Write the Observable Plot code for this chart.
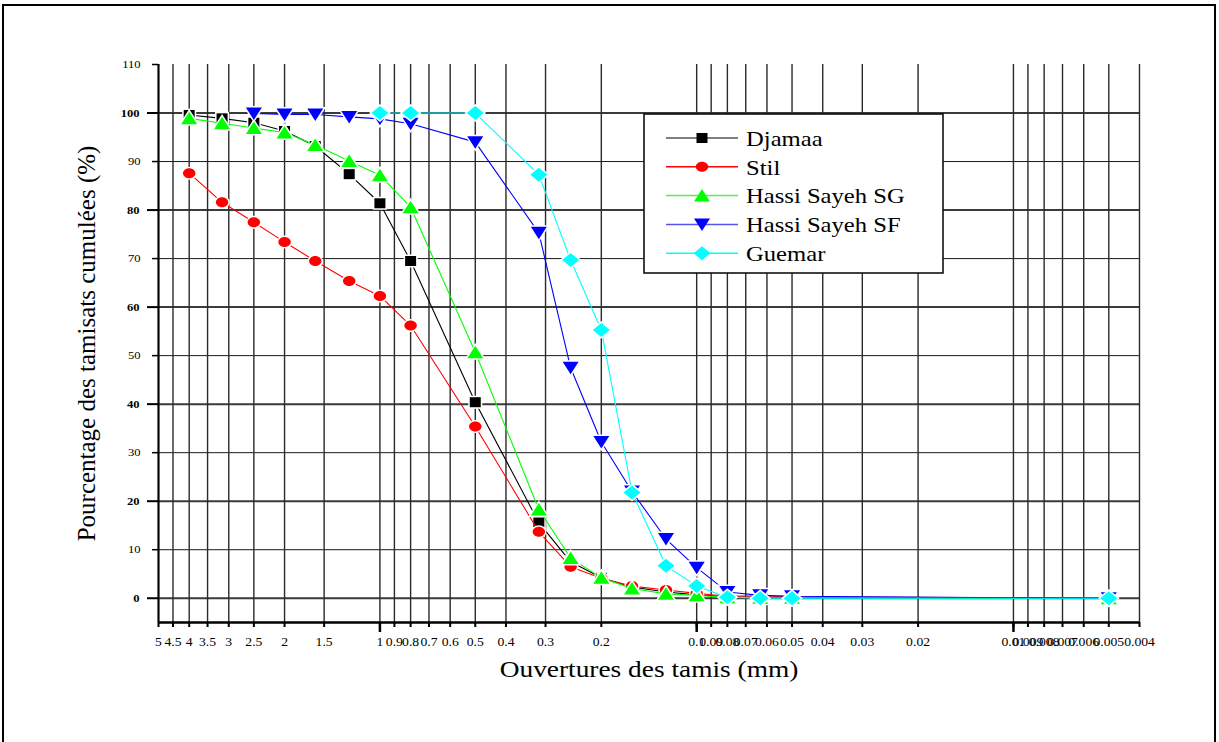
<!DOCTYPE html>
<html><head><meta charset="utf-8">
<script src="https://cdn.jsdelivr.net/npm/d3@7"></script>
<script src="https://cdn.jsdelivr.net/npm/@observablehq/plot@0.6"></script>
<style>
html,body{margin:0;padding:0;background:#fff;overflow:hidden}
#wrap{position:relative;width:1219px;height:742px}
#frame{position:absolute;left:2px;top:4px;width:1214px;height:760px;border:2px solid #000;border-bottom:none;box-sizing:border-box;pointer-events:none}
#legend{position:absolute;left:643px;top:113px}
</style></head><body><div id="wrap"><div id="frame"></div><svg id="legend" width="302" height="162"></svg></div>
<script>
// ---- data ----
const sieves = [4, 3.15, 2.5, 2, 1.6, 1.25, 1, 0.8, 0.5, 0.315, 0.25, 0.2, 0.16, 0.125, 0.1, 0.08, 0.063, 0.05, 0.005];
const djamaa = [99.6, 98.9, 98.0, 96.3, 93.2, 87.4, 81.4, 69.5, 40.4, 15.6, 7.5, 4.2, 2.3, 1.3, 0.7, 0.3, 0.2, 0.1, 0];
const stil   = [87.6, 81.6, 77.5, 73.4, 69.5, 65.4, 62.3, 56.2, 35.4, 13.7, 6.5, 4.1, 2.5, 1.7, 1.0, 0.4, 0.5, 0.3, 0];
const hassiSG = [98.9, 97.9, 96.9, 96.0, 93.4, 90.1, 87.2, 80.6, 50.7, 18.3, 8.3, 4.2, 2.0, 0.9, 0.6, 0.2, 0.1, 0.1, 0];
const hassiSF = [null, null, 99.9, 99.7, 99.7, 99.2, 98.8, 97.8, 94.0, 75.3, 47.5, 32.2, 22.0, 12.2, 6.3, 1.3, 0.6, 0.4, 0];
const guemar = [null, null, null, null, null, null, 100, 100, 100, 87.3, 69.7, 55.3, 21.8, 6.7, 2.5, 0.2, 0, 0, 0];

const seriesNames = ["Djamaa", "Stil", "Hassi Sayeh SG", "Hassi Sayeh SF", "Guemar"];
const seriesValues = [djamaa, stil, hassiSG, hassiSF, guemar];
const seriesColors = ["#000000", "#ff0000", "#00ff00", "#0000ff", "#00ffff"];
const legendLineColors = ["#555555", "#ff0000", "#55ee55", "#5555ee", "#00ffff"];

const xTicks = [5, 4.5, 4, 3.5, 3, 2.5, 2, 1.5, 1, 0.9, 0.8, 0.7, 0.6, 0.5, 0.4, 0.3, 0.2, 0.1, 0.09, 0.08, 0.07, 0.06, 0.05, 0.04, 0.03, 0.02, 0.01, 0.009, 0.008, 0.007, 0.006, 0.005, 0.004];
const xMajorTicks = [1, 0.1, 0.01];
const yTicksMajor = [0, 20, 40, 60, 80, 100];
const yTicksMinor = [10, 30, 50, 70, 90, 110];
const yGridMajor = [0, 20, 40, 60, 80, 100];
const yGridMinor = [10, 30, 50, 70, 90];

const xTitle = "Ouvertures des tamis (mm)";
const yTitle = "Pourcentage des tamisats cumulées (%)";

// ---- symbols ----
const symSquare = {draw(c){c.moveTo(-5.5,-5);c.lineTo(5.5,-5);c.lineTo(5.5,5);c.lineTo(-5.5,5);c.closePath();}};
const symEllipse = {draw(c){const rx=6.2, ry=5, k=0.5523;
  c.moveTo(rx,0);
  c.bezierCurveTo(rx,ry*k,rx*k,ry,0,ry);
  c.bezierCurveTo(-rx*k,ry,-rx,ry*k,-rx,0);
  c.bezierCurveTo(-rx,-ry*k,-rx*k,-ry,0,-ry);
  c.bezierCurveTo(rx*k,-ry,rx,-ry*k,rx,0);
  c.closePath();}};
const symUp = {draw(c){c.moveTo(0,-6.5);c.lineTo(8,6);c.lineTo(-8,6);c.closePath();}};
const symDown = {draw(c){c.moveTo(-8,-6);c.lineTo(8,-6);c.lineTo(0,6.5);c.closePath();}};
const symDiamond = {draw(c){c.moveTo(0,-7);c.lineTo(8.5,0);c.lineTo(0,7);c.lineTo(-8.5,0);c.closePath();}};
const seriesSymbols = [symSquare, symEllipse, symUp, symDown, symDiamond];

// ---- build rows ----
const rows = [];
seriesNames.forEach((name, i) => {
  sieves.forEach((s, j) => {
    const v = seriesValues[i][j];
    if (v !== null && v !== undefined) rows.push({series: name, x: s, y: v});
  });
});

const FONT = "'Liberation Serif', 'Times New Roman', serif";

const marks = [
  Plot.ruleY(yGridMinor, {stroke: "#1a1a1a", strokeWidth: 1}),
  Plot.ruleY(yGridMajor, {stroke: "#3a3a3a", strokeWidth: 2}),
  Plot.ruleX(xTicks, {stroke: "#2a2a2a", strokeWidth: 1.4}),
  Plot.ruleX([xTicks[0]], {stroke: "#000", strokeWidth: 2}),
  Plot.ruleY([-5], {stroke: "#000", strokeWidth: 2.5}),
  Plot.axisX({ticks: xTicks, tickSize: 5, tickFormat: () => "", label: null, strokeWidth: 2}),
  Plot.axisX({ticks: xMajorTicks, tickSize: 10, tickFormat: () => "", label: null, strokeWidth: 2.5}),
  Plot.text(xTicks, {x: d => d, text: d => String(d), frameAnchor: "bottom", dy: 23, fontSize: 12, fill: "#000", className: "stretch"}),
  Plot.axisY({ticks: yTicksMajor, tickSize: 11, tickPadding: 8, label: null, fontSize: 11, fontWeight: "bold", strokeWidth: 2}),
  Plot.axisY({ticks: yTicksMinor, tickSize: 6, tickPadding: 12, label: null, fontSize: 11, strokeWidth: 1.5}),
  Plot.text([xTitle], {frameAnchor: "bottom", dy: 54, fontSize: 24, fill: "#000", className: "stretch"}),
  Plot.text([yTitle], {frameAnchor: "left", textAnchor: "middle", rotate: -90, dx: -72, fontSize: 25, fill: "#000"})
];

seriesNames.forEach((name, i) => {
  const d = rows.filter(r => r.series === name);
  marks.push(Plot.line(d, {x: "x", y: "y", stroke: seriesColors[i], strokeWidth: 1.1}));
  marks.push(Plot.dot(d, {x: "x", y: "y", symbol: seriesSymbols[i], r: 5, fill: seriesColors[i], stroke: "white", strokeWidth: 3, paintOrder: "stroke"}));
});

const chart = Plot.plot({
  width: 1219,
  height: 742,
  marginLeft: 158,
  marginRight: 80,
  marginTop: 64,
  marginBottom: 120,
  style: {fontFamily: FONT, background: "transparent", color: "#000", overflow: "visible"},
  x: {type: "log", domain: [5, 0.004]},
  y: {domain: [-5, 110]},
  marks
});
chart.style.position = "absolute";
chart.style.left = "0px";
chart.style.top = "0px";
document.getElementById("wrap").prepend(chart);

// horizontal stretch of text to match the reference aspect
d3.select(chart).selectAll("g[aria-label='y-axis tick label'] text, .stretch text").each(function() {
  const len = this.getComputedTextLength();
  if (len > 0) {
    this.setAttribute("textLength", len * 1.14);
    this.setAttribute("lengthAdjust", "spacingAndGlyphs");
  }
});

// ---- legend ----
const lg = d3.select("#legend");
lg.append("rect").attr("x", 1).attr("y", 1).attr("width", 299).attr("height", 159)
  .attr("fill", "white").attr("stroke", "#111").attr("stroke-width", 1.6);
seriesNames.forEach((name, i) => {
  const cy = 25 + i * 28.8;
  lg.append("line").attr("x1", 23).attr("x2", 95).attr("y1", cy).attr("y2", cy)
    .attr("stroke", legendLineColors[i]).attr("stroke-width", 1.5);
  const p = d3.path();
  seriesSymbols[i].draw(p);
  lg.append("path").attr("d", p.toString()).attr("transform", `translate(59,${cy})`).attr("fill", seriesColors[i]);
  const t = lg.append("text").attr("x", 103).attr("y", cy).attr("dy", "0.35em")
    .attr("font-family", FONT).attr("font-size", 22).attr("fill", "#000").text(name);
  const len = t.node().getComputedTextLength();
  t.attr("textLength", len * 1.12).attr("lengthAdjust", "spacingAndGlyphs");
});
</script>
</body></html>
